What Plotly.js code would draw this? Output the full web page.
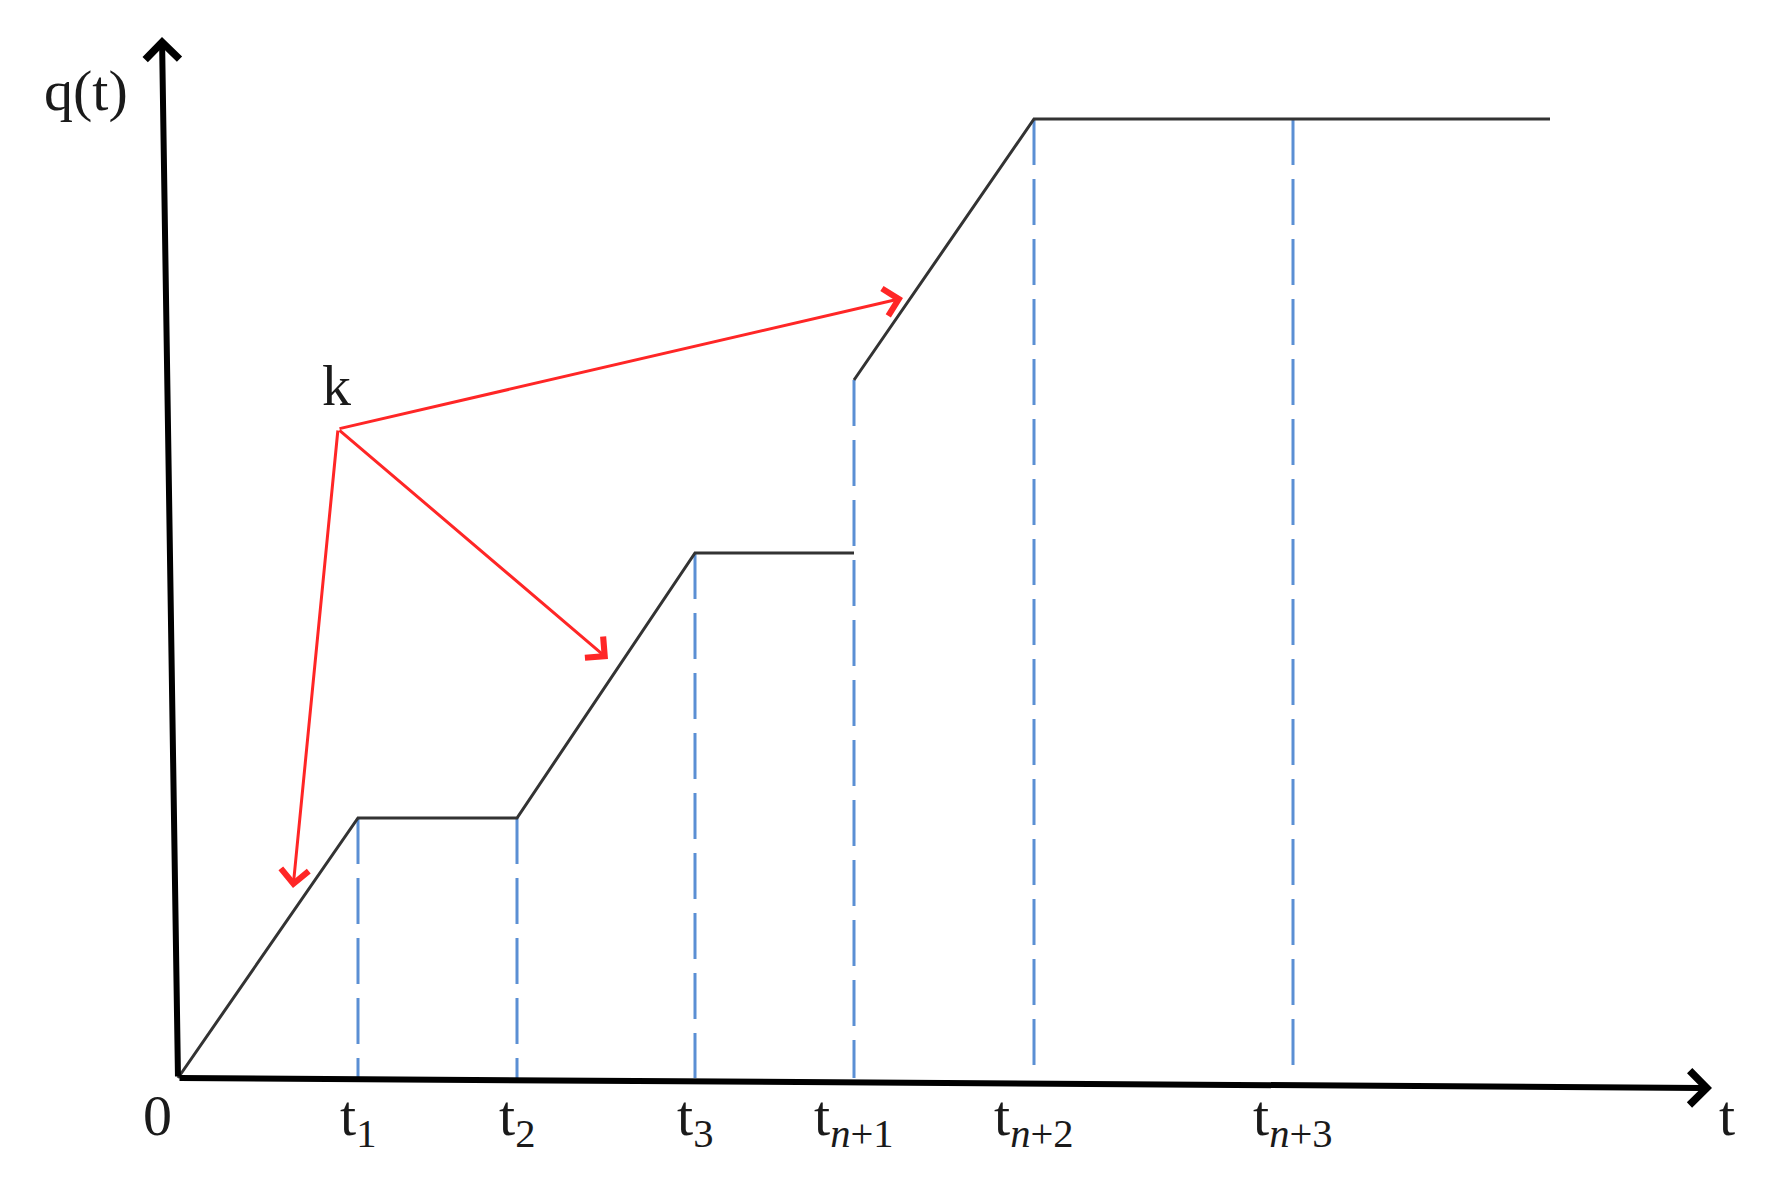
<!DOCTYPE html>
<html>
<head>
<meta charset="utf-8">
<script src="https://cdn.plot.ly/plotly-3.0.1.min.js"></script>
<style>
  body { margin: 0; background: #fff; }
  #chart { width: 1781px; height: 1193px; }
</style>
</head>
<body>
<div id="chart"></div>
<script>
// time marks on the t axis and their labels
const tTicks = [1.80, 3.39, 5.17, 6.76, 8.56, 11.15];
const tickLabels = ['t<sub>1</sub>', 't<sub>2</sub>', 't<sub>3</sub>',
  't<sub><i>n</i>+1</sub>', 't<sub><i>n</i>+2</sub>', 't<sub><i>n</i>+3</sub>'];
// q(t) reached at each mark (top of the dashed drop lines)
const dashTop = [2.60, 2.60, 5.25, 6.98, 9.59, 9.59];

// the q(t) curve, with a break at t(n+1)
const curveT = [0, 1.80, 3.39, 5.17, 6.76, null, 6.76, 8.56, 13.72];
const curveQ = [0, 2.60, 2.60, 5.25, 5.25, null, 6.98, 9.59, 9.59];

// slope k and where its arrows point
const kPoint = [1.60, 6.49];
const arrowTipT = [1.15, 4.30, 7.25];
const arrowTipQ = [1.90, 4.19, 7.80];

// axis ends
const tAxisEnd = [15.34, -0.10];
const qAxisEnd = [-0.16, 10.41];

function arrowNote(x0, y0, x1, y1, color, width, headSize) {
  return {x: x1, y: y1, ax: x0, ay: y0, xref: 'x', yref: 'y', axref: 'x', ayref: 'y',
    text: '', showarrow: true, arrowhead: 4, arrowsize: headSize, arrowwidth: width, arrowcolor: color};
}

function drawChart() {
  let dashX = [];
  let dashY = [];
  for (let i = 0; i < tTicks.length; i++) {
    dashX.push(tTicks[i], tTicks[i], null);
    dashY.push(dashTop[i], 0, null);
  }

  let drops = {
    x: dashX, y: dashY, type: 'scatter', mode: 'lines',
    line: {color: '#5b8fd4', width: 3, dash: '46px,14px'},
    hoverinfo: 'skip'
  };

  let curve = {
    x: curveT, y: curveQ, type: 'scatter', mode: 'lines',
    line: {color: '#333333', width: 3},
    connectgaps: false,
    hoverinfo: 'skip'
  };

  let serif = {family: 'Liberation Serif, DejaVu Serif, serif', size: 58, color: '#1a1a1a'};
  let notes = [];

  // axes drawn as arrows
  notes.push(arrowNote(0, 0, tAxisEnd[0], tAxisEnd[1], '#000', 6, 1.1));
  notes.push(arrowNote(0, 0, qAxisEnd[0], qAxisEnd[1], '#000', 6, 1.1));

  // red arrows from k
  for (let i = 0; i < arrowTipT.length; i++) {
    notes.push(arrowNote(kPoint[0], kPoint[1], arrowTipT[i], arrowTipQ[i], '#ff2626', 3, 1.8));
  }

  // tick labels
  for (let i = 0; i < tTicks.length; i++) {
    notes.push({x: tTicks[i], y: -0.03, xref: 'x', yref: 'y', text: tickLabels[i],
      showarrow: false, xanchor: 'center', yanchor: 'top', font: serif});
  }
  notes.push({x: -0.21, y: -0.37, xref: 'x', yref: 'y', text: '0', showarrow: false, font: serif});
  notes.push({x: 15.49, y: -0.37, xref: 'x', yref: 'y', text: 't', showarrow: false, font: serif});
  notes.push({x: -0.92, y: 9.88, xref: 'x', yref: 'y', text: 'q(t)', showarrow: false, font: serif});
  notes.push({x: 1.58, y: 6.93, xref: 'x', yref: 'y', text: 'k', showarrow: false, font: serif});

  var layout = {
    width: 1781, height: 1193,
    margin: {l: 0, r: 0, t: 0, b: 0},
    paper_bgcolor: '#fff', plot_bgcolor: '#fff',
    showlegend: false,
    xaxis: {range: [-1.78, 16.03], visible: false, fixedrange: true},
    yaxis: {range: [-1.15, 10.78], visible: false, fixedrange: true},
    annotations: notes
  };

  Plotly.newPlot('chart', [drops, curve], layout, {staticPlot: true});
}

drawChart();
</script>
</body>
</html>
